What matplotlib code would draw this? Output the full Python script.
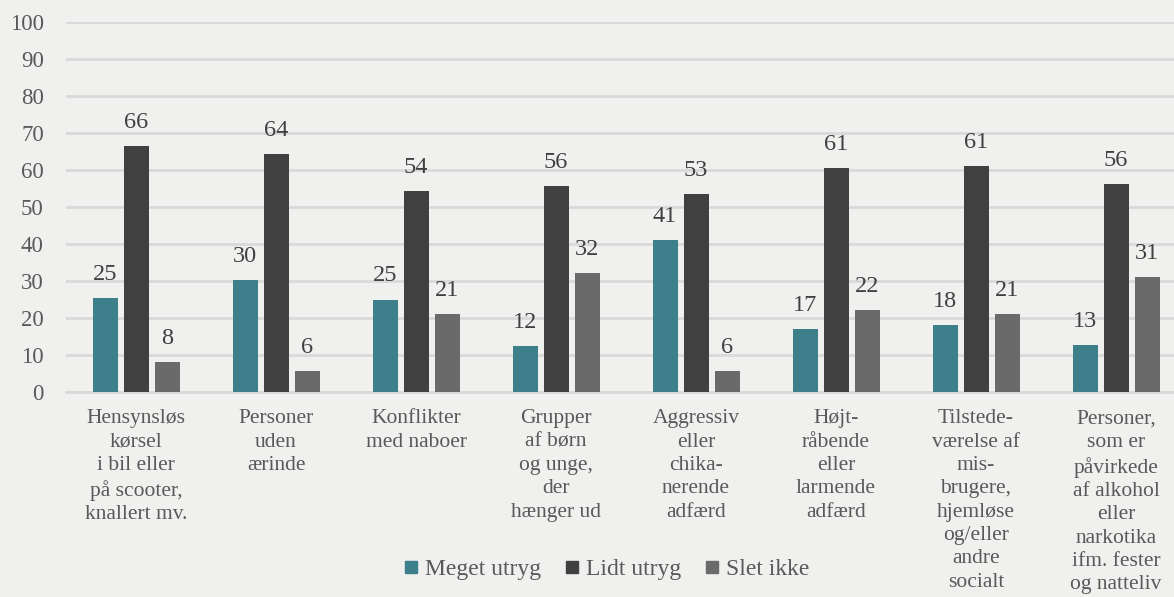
import numpy as np
import matplotlib
matplotlib.use('Agg')
import matplotlib.pyplot as plt
from matplotlib.lines import Line2D

plt.rcParams['font.family'] = ['Liberation Serif', 'DejaVu Serif']

categories = ['Hensynsløs\nkørsel\ni bil eller\npå scooter,\nknallert mv.',
              'Personer\nuden\nærinde',
              'Konflikter\nmed naboer',
              'Grupper\naf børn\nog unge,\nder\nhænger ud',
              'Aggressiv\neller\nchika-\nnerende\nadfærd',
              'Højt-\nråbende\neller\nlarmende\nadfærd',
              'Tilstede-\nværelse af\nmis-\nbrugere,\nhjemløse\nog/eller\nandre\nsocialt',
              'Personer,\nsom er\npåvirkede\naf alkohol\neller\nnarkotika\nifm. fester\nog natteliv']
meget_utryg = [25.3, 30.2, 25.0, 12.4, 41.1, 17.1, 18.2, 12.8]
lidt_utryg = [66.4, 64.3, 54.3, 55.7, 53.4, 60.6, 61.0, 56.2]
slet_ikke = [8.2, 5.6, 21.0, 32.2, 5.6, 22.2, 21.0, 31.0]
series_names = ['Meget utryg', 'Lidt utryg', 'Slet ikke']
colors = ['#3d7f8b', '#404040', '#6a6a6a']
bg = '#f0f0ef'

fig = plt.figure(figsize=(11.74, 5.97), dpi=100, facecolor=bg)
ax = fig.add_axes([66/1174, 205/597, 1120/1174, 370/597])
ax.set_facecolor(bg)

x = np.arange(len(categories))
w = 25/140
step = 31/140
for k, vals in enumerate([meget_utryg, lidt_utryg, slet_ikke]):
    pos = x + (k - 1) * step
    ax.bar(pos, vals, width=w, color=colors[k], zorder=3)
    for p, v in zip(pos, vals):
        ax.annotate('%.0f' % v, (p, v), xytext=(0, 13), textcoords='offset points',
                    ha='center', va='baseline', fontsize=17.5, color='#404040')

ax.set_xlim(-0.5, 7.5)
ax.set_ylim(0, 100)
ax.set_yticks(range(0, 101, 10))
ax.yaxis.grid(True, color='#d9d9d9', linewidth=2, zorder=0)
ax.set_axisbelow(True)
for s in ['top', 'right', 'left']:
    ax.spines[s].set_visible(False)
ax.spines['bottom'].set_color('#d9d9d9')
ax.spines['bottom'].set_linewidth(2)
ax.tick_params(axis='y', length=0, pad=16, labelsize=16.5, labelcolor='#595959')
ax.set_xticks(x)
ax.set_xticklabels(categories, fontsize=15.5, color='#595959', linespacing=1.31)
ax.tick_params(axis='x', length=0, pad=12.5)

handles = [Line2D([], [], marker='s', linestyle='none', markersize=9,
                  markerfacecolor=c, markeredgecolor=c) for c in colors]
fig.legend(handles, series_names, loc='center', bbox_to_anchor=(607/1174, 1 - 569/597),
           ncol=3, frameon=False, fontsize=17, labelcolor='#595959',
           handlelength=0.6, handletextpad=0.3, columnspacing=1.0)

fig.savefig('out.png', dpi=100, facecolor=bg)
